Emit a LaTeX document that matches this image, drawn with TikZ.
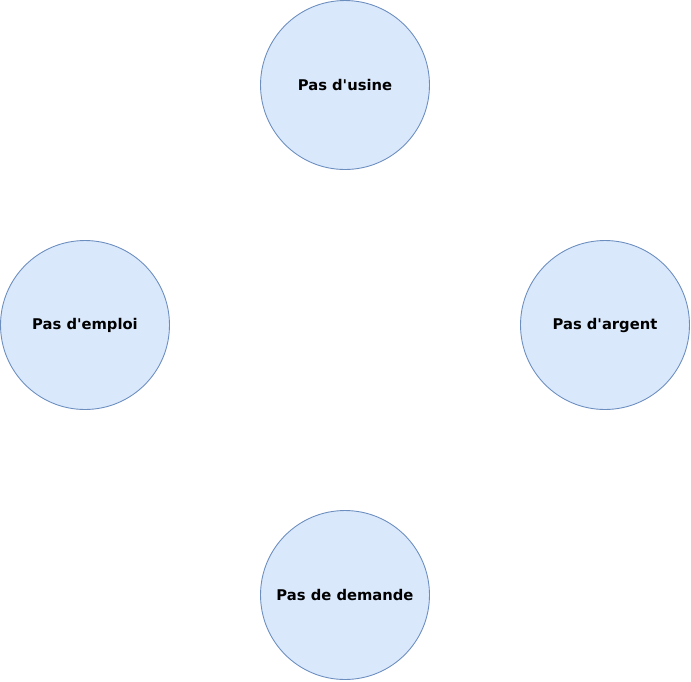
\documentclass[tikz,border=0pt]{standalone}
\usepackage{fontspec}
\setmainfont{DejaVu Sans}
\usepackage{xcolor}
\usepackage{tikz}
\definecolor{bulle}{HTML}{DAE8FC}
\definecolor{bord}{HTML}{6C8EBF}

\begin{document}
\begin{tikzpicture}[x=0.02cm, y=-0.02cm, every node/.style={font=\fontsize{8.4}{10}\selectfont\bfseries}]
            \useasboundingbox (0,0) rectangle (691,681);
            \tikzset{bulle/.style={circle, draw=bord, fill=bulle, line width=0.5pt, minimum size=3.38cm, inner sep=0pt}}
            % Les quatre bulles
            \node[bulle] (usine) at (345,85) {Pas d\textquotesingle usine};
            \node[bulle] (emploi) at (85,325) {Pas d\textquotesingle emploi};
            \node[bulle] (argent) at (605,325) {Pas d\textquotesingle argent};
            \node[bulle] (demande) at (345,595) {Pas de demande};
        \end{tikzpicture}
\end{document}
